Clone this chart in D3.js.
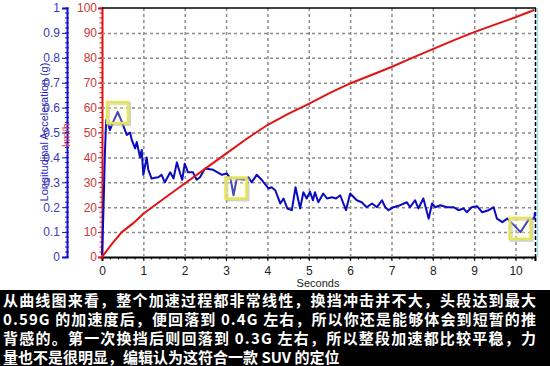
<!DOCTYPE html>
<html>
<head>
<meta charset="utf-8">
<script src="https://cdn.jsdelivr.net/npm/d3@7"></script>
<style>
    body { margin: 0; background: #fff; }
    svg { display: block; font-family: Arial, "Liberation Sans", sans-serif; }
</style>
</head>
<body>
<script>
// speed curve (km/h, red)
var speedT = [0, 0.25, 0.48, 0.75, 1.0, 1.5, 2.0, 2.5, 3.0, 3.5, 4.0, 4.5,
    5.0, 5.5, 6.0, 6.5, 7.0, 7.5, 8.0, 8.5, 9.0, 9.5, 10.0, 10.45];
var speedV = [0, 5.5, 10, 13.5, 17.4, 23.5, 29.5, 35.5, 41.5, 47.5, 53, 57.5,
    61.5, 65.8, 69.7, 73, 76.3, 80, 83.5, 87, 90.3, 93.3, 96.3, 99.2];

// longitudinal acceleration (g, blue)
var accT = [0, 0.03, 0.05, 0.07, 0.1, 0.15, 0.19, 0.27, 0.38, 0.48, 0.6, 0.68,
    0.72, 0.8, 0.84, 0.92, 0.96, 1.0, 1.08, 1.12, 1.2, 1.28, 1.36, 1.44, 1.52,
    1.65, 1.73, 1.81, 1.89, 1.94, 2.0, 2.08, 2.2, 2.29, 2.37, 2.49, 2.69, 2.9,
    3.02, 3.11, 3.18, 3.26, 3.42, 3.54, 3.62, 3.74, 3.86, 4.03, 4.1, 4.19,
    4.31, 4.39, 4.48, 4.59, 4.68, 4.79, 4.87, 4.95, 5.03, 5.1, 5.15, 5.23,
    5.35, 5.44, 5.56, 5.66, 5.76, 5.9, 6.0, 6.16, 6.28, 6.4, 6.53, 6.65,
    6.77, 6.85, 6.93, 7.05, 7.21, 7.37, 7.45, 7.57, 7.65, 7.77, 7.9, 7.98,
    8.06, 8.18, 8.34, 8.5, 8.62, 8.74, 8.82, 8.94, 9.07, 9.19, 9.35, 9.47,
    9.55, 9.68, 9.8, 9.96, 10.12, 10.33, 10.45, 10.47];
var accG = [0.007, 0.16, 0.28, 0.415, 0.55, 0.536, 0.51, 0.543, 0.583, 0.543,
    0.49, 0.50, 0.47, 0.436, 0.462, 0.40, 0.43, 0.33, 0.40, 0.35, 0.315, 0.318,
    0.32, 0.33, 0.30, 0.34, 0.315, 0.38, 0.335, 0.31, 0.375, 0.34, 0.34, 0.31,
    0.32, 0.355, 0.35, 0.33, 0.335, 0.315, 0.248, 0.315, 0.31, 0.32, 0.30,
    0.33, 0.31, 0.275, 0.28, 0.268, 0.215, 0.235, 0.195, 0.188, 0.28, 0.195,
    0.26, 0.235, 0.262, 0.228, 0.26, 0.22, 0.255, 0.235, 0.24, 0.235, 0.248,
    0.188, 0.255, 0.228, 0.22, 0.20, 0.215, 0.20, 0.228, 0.20, 0.188, 0.20,
    0.208, 0.22, 0.20, 0.228, 0.195, 0.235, 0.154, 0.215, 0.20, 0.208, 0.20,
    0.20, 0.188, 0.195, 0.18, 0.20, 0.204, 0.18, 0.188, 0.20, 0.154, 0.14,
    0.154, 0.128, 0.10, 0.154, 0.154, 0.18];

// highlighted spots (seconds, g)
var markT = [0.375, 3.24, 10.11];
var markG = [0.58, 0.277, 0.115];

var xTicks = [0, 1, 2, 3, 4, 5, 6, 7, 8, 9, 10];
var speedTicks = [0, 10, 20, 30, 40, 50, 60, 70, 80, 90, 100];
var accTicks = [0, 0.1, 0.2, 0.3, 0.4, 0.5, 0.6, 0.7, 0.8, 0.9, 1];

var caption = [
    "从曲线图来看，整个加速过程都非常线性，换挡冲击并不大，头段达到最大",
    "0.59G 的加速度后，便回落到 0.4G 左右，所以你还是能够体会到短暂的推",
    "背感的。第一次换挡后则回落到 0.3G 左右，所以整段加速都比较平稳，力",
    "量也不是很明显，编辑认为这符合一款 SUV 的定位"
];

var W = 550, H = 366;
// plot box edges in pixels
var plotL = 102, plotR = 535, plotT = 8, plotB = 257;

var svg = d3.select("body").append("svg")
    .attr("width", W)
    .attr("height", H);

var x = d3.scaleLinear().domain([0, 10.47]).range([plotL, plotR]);
var ySpeed = d3.scaleLinear().domain([0, 100]).range([plotB, plotT]);
var yAcc = d3.scaleLinear().domain([0, 1]).range([plotB, plotT]);

// bottom axis
var xAxis = d3.axisBottom(x).tickValues(xTicks).tickSize(4)
    .tickFormat(d3.format("d"));
var gx = svg.append("g")
    .attr("transform", "translate(0," + plotB + ")")
    .call(xAxis);
gx.select(".domain").attr("stroke", "#000").attr("stroke-width", 2);
gx.selectAll("text").attr("font-size", "12px").attr("fill", "#222")
    .attr("dy", "0.95em");
gx.selectAll(".minor")
    .data(d3.range(0, 10.41, 0.2))
    .enter().append("line")
    .attr("class", "minor")
    .attr("x1", function(d) { return x(d); })
    .attr("x2", function(d) { return x(d); })
    .attr("y1", 0).attr("y2", 2.5)
    .attr("stroke", "#000");
svg.append("text")
    .attr("x", 318).attr("y", 287)
    .attr("text-anchor", "middle")
    .attr("font-size", "11px")
    .attr("fill", "#222")
    .text("Seconds");

// red speed axis
var speedAxis = d3.axisLeft(ySpeed).tickValues(speedTicks).tickSize(4);
var gs = svg.append("g")
    .attr("transform", "translate(" + plotL + ",0)")
    .call(speedAxis);
gs.select(".domain").attr("stroke", "#e01010").attr("stroke-width", 2);
gs.selectAll(".tick line").attr("stroke", "#e01010");
gs.selectAll("text").attr("font-size", "12px").attr("fill", "#c83a3a")
    .attr("x", -5);
gs.selectAll(".minor")
    .data(d3.range(0, 100.1, 2))
    .enter().append("line")
    .attr("class", "minor")
    .attr("y1", function(d) { return ySpeed(d); })
    .attr("y2", function(d) { return ySpeed(d); })
    .attr("x1", -2.5).attr("x2", 0)
    .attr("stroke", "#e01010");

// blue acceleration axis
var accAxis = d3.axisLeft(yAcc).tickValues(accTicks).tickSize(5)
    .tickFormat(function(d) { return String(+d.toFixed(1)); });
var ga = svg.append("g")
    .attr("transform", "translate(67,0)")
    .call(accAxis);
ga.select(".domain").attr("stroke", "#1010d0").attr("stroke-width", 2);
ga.selectAll(".tick line").attr("stroke", "#1010d0");
ga.selectAll("text").attr("font-size", "12px").attr("fill", "#3a3ab4")
    .attr("x", -7);
ga.selectAll(".minor")
    .data(d3.range(0, 1.001, 0.02))
    .enter().append("line")
    .attr("class", "minor")
    .attr("y1", function(d) { return yAcc(d); })
    .attr("y2", function(d) { return yAcc(d); })
    .attr("x1", -2).attr("x2", 2)
    .attr("stroke", "#1010d0");

// axis titles
svg.append("text")
    .attr("transform", "translate(48,132) rotate(-90)")
    .attr("text-anchor", "middle")
    .attr("font-size", "11px")
    .attr("fill", "#2a2ab8")
    .text("Longitudinal Acceleration (g)");
svg.append("text")
    .attr("transform", "translate(70,135) rotate(-90)")
    .attr("text-anchor", "middle")
    .attr("font-size", "11px")
    .attr("fill", "#e04040")
    .text("km/h");

// caption block
svg.append("rect")
    .attr("x", 0).attr("y", 290)
    .attr("width", W).attr("height", H - 290)
    .attr("fill", "#000");
svg.selectAll("text.cap")
    .data(caption)
    .enter().append("text")
    .attr("class", "cap")
    .attr("x", 3)
    .attr("y", function(d, i) { return 306 + i * 19; })
    .attr("fill", "#fff")
    .attr("font-size", "15px")
    .attr("font-weight", "bold")
    .attr("font-family", "'Noto Sans CJK SC', sans-serif")
    .each(function(d, i) {
        if (i < 3) {
            d3.select(this).attr("textLength", 533)
                .attr("lengthAdjust", "spacing");
        }
    })
    .text(function(d) { return d; });

// grid: dashed gray lines as long ticks of the time and speed axes
svg.append("g")
    .attr("class", "grid")
    .attr("transform", "translate(0," + plotB + ")")
    .call(d3.axisTop(x).tickValues(xTicks.slice(1))
        .tickSize(plotB - plotT).tickFormat(""));
svg.append("g")
    .attr("class", "grid")
    .attr("transform", "translate(" + plotL + ",0)")
    .call(d3.axisRight(ySpeed).tickValues(speedTicks.slice(1, -1))
        .tickSize(plotR - plotL).tickFormat(""));
svg.selectAll(".grid .domain").remove();
svg.selectAll(".grid .tick line")
    .attr("stroke", "#8c8c8c")
    .attr("stroke-width", 1.5)
    .attr("stroke-dasharray", "3,3");

// frame: top border, right border (dashed black + cyan)
var frame = svg.append("g").attr("fill", "none");
frame.append("path")
    .attr("d", "M" + plotL + "," + plotT + "H" + (plotR + 1))
    .attr("stroke", "#000").attr("stroke-width", 1.6);
frame.append("path")
    .attr("d", "M" + (plotR + 2.5) + "," + plotT + "V" + plotB)
    .attr("stroke", "#9ee6ee").attr("stroke-width", 1.5);
frame.append("path")
    .attr("d", "M" + (plotR + 0.5) + "," + plotT + "V" + plotB)
    .attr("stroke", "#000").attr("stroke-width", 1.5)
    .attr("stroke-dasharray", "4,2");

// curves
var speedData = speedT.map(function(t, i) { return [t, speedV[i]]; });
var accData = accT.map(function(t, i) { return [t, accG[i]]; });

svg.append("path")
    .datum(accData)
    .attr("fill", "none")
    .attr("stroke", "#0a0ac0")
    .attr("stroke-width", 2)
    .attr("stroke-linejoin", "round")
    .attr("d", d3.line()
        .x(function(d) { return x(d[0]); })
        .y(function(d) { return yAcc(d[1]); }));

svg.append("path")
    .datum(speedData)
    .attr("fill", "none")
    .attr("stroke", "#e01414")
    .attr("stroke-width", 2)
    .attr("d", d3.line()
        .x(function(d) { return x(d[0]); })
        .y(function(d) { return ySpeed(d[1]); }));

// yellow highlight boxes
var marks = markT.map(function(t, i) { return [t, markG[i]]; });
var box = 21;
svg.selectAll("rect.shadow")
    .data(marks)
    .enter().append("rect")
    .attr("class", "shadow")
    .attr("x", function(d) { return x(d[0]) - box / 2 + 1.5; })
    .attr("y", function(d) { return yAcc(d[1]) - box / 2 + 1.5; })
    .attr("width", box).attr("height", box)
    .attr("fill", "none")
    .attr("stroke", "#b8b8a0")
    .attr("stroke-width", 3)
    .attr("opacity", 0.6);
svg.selectAll("rect.mark")
    .data(marks)
    .enter().append("rect")
    .attr("class", "mark")
    .attr("x", function(d) { return x(d[0]) - box / 2; })
    .attr("y", function(d) { return yAcc(d[1]) - box / 2; })
    .attr("width", box).attr("height", box)
    .attr("fill", "rgba(255,255,190,0.25)")
    .attr("stroke", "#e4e45a")
    .attr("stroke-width", 2.5);
</script>
</body>
</html>
